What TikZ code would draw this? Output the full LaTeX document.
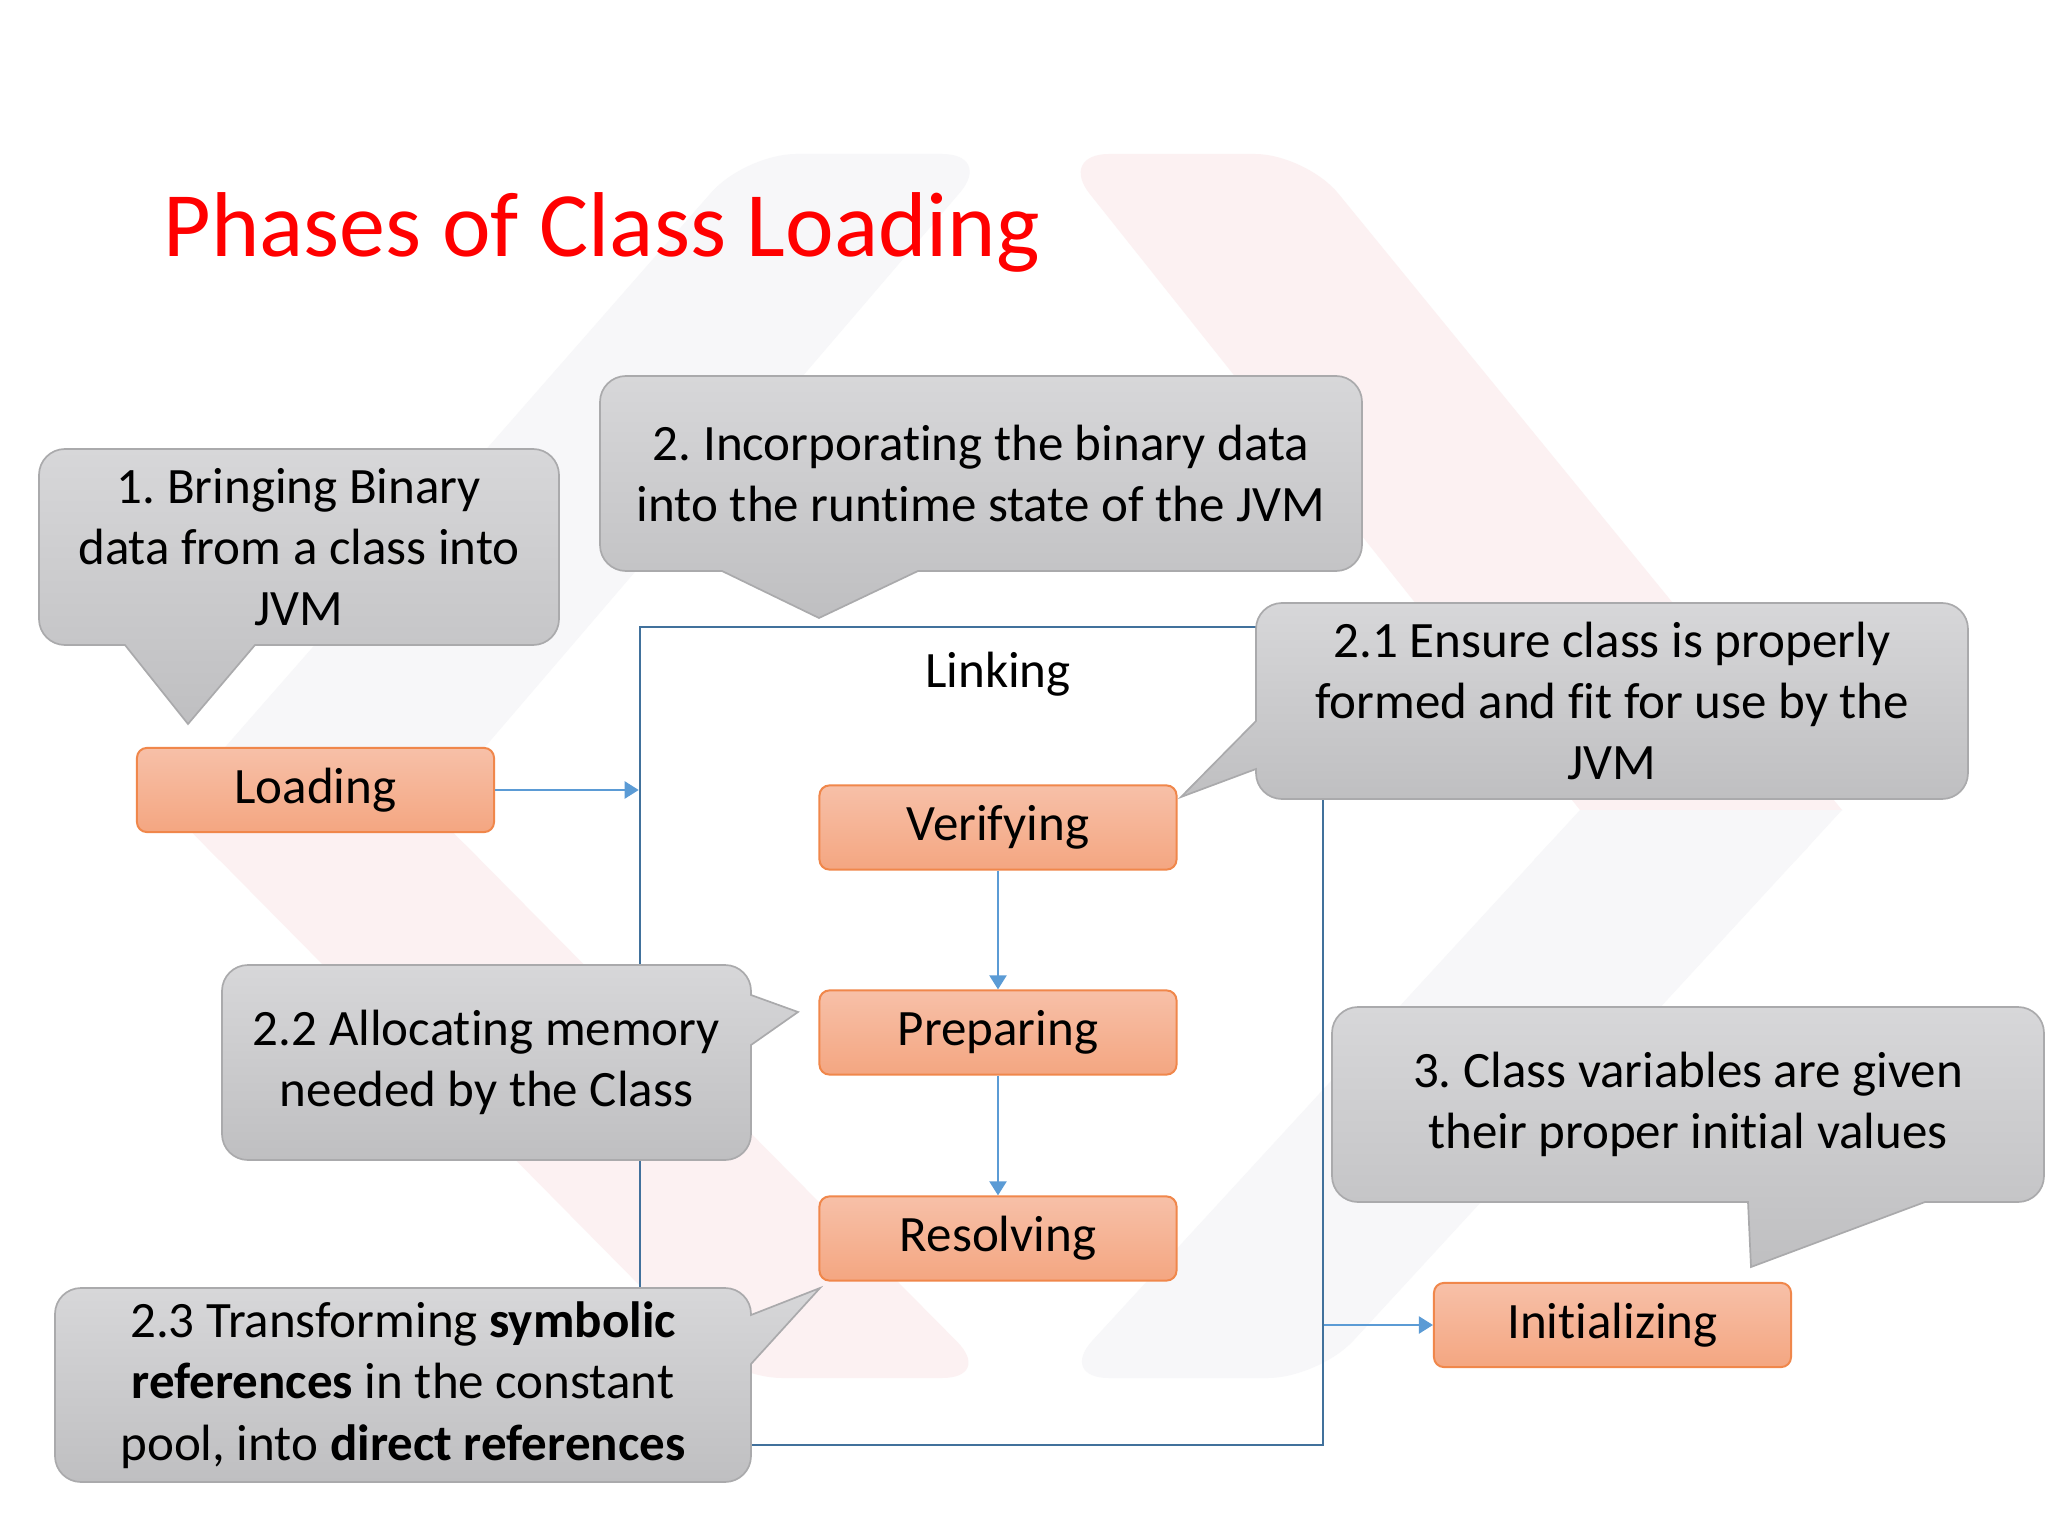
\documentclass[tikz,border=0pt]{standalone}
\usepackage{fontspec}
\setmainfont{Carlito}[Ligatures={NoCommon}]
\usetikzlibrary{arrows.meta,calc}
\frenchspacing

\definecolor{calloutTop}{RGB}{215,215,217}
\definecolor{calloutBot}{RGB}{191,191,193}
\definecolor{calloutLine}{RGB}{170,170,172}
\definecolor{orTop}{RGB}{247,192,168}
\definecolor{orBot}{RGB}{244,166,129}
\definecolor{orLine}{RGB}{240,135,75}
\definecolor{linkBlue}{RGB}{65,113,156}
\definecolor{arrBlue}{RGB}{91,155,213}
\definecolor{titleRed}{RGB}{255,0,0}
\definecolor{wmPink}{RGB}{252,241,242}
\definecolor{wmGray}{RGB}{247,247,249}

% rounded callout box: x1 y1 x2 y2 {top} {right} {bottom} {left}
\newcommand\cbox[8]{%
  (#1+26,#2) #5 -- (#3-26,#2) .. controls (#3-11.6,#2) and (#3,#2+11.6) .. (#3,#2+26)
  #6 -- (#3,#4-26) .. controls (#3,#4-11.6) and (#3-11.6,#4) .. (#3-26,#4)
  #7 -- (#1+26,#4) .. controls (#1+11.6,#4) and (#1,#4-11.6) .. (#1,#4-26)
  #8 -- (#1,#2+26) .. controls (#1,#2+11.6) and (#1+11.6,#2) .. (#1+26,#2) -- cycle}

\tikzset{
  callout/.style={draw=calloutLine, line width=0.6pt, top color=calloutTop, bottom color=calloutBot},
  ctext/.style={align=center, inner sep=0pt, font=\fontsize{18pt}{21.6pt}\selectfont},
  phase/.style={draw=orLine, line width=0.7pt, rounded corners=3.5pt, top color=orTop, bottom color=orBot,
    minimum width=126pt, minimum height=29.7pt, inner sep=0pt, font=\fontsize{18pt}{21.6pt}\selectfont},
  arr/.style={draw=arrBlue, line width=0.95pt, -{Triangle[width=6pt,length=5pt]}},
  wmark/.style={rounded corners=18pt}
}

\begin{document}
\begin{tikzpicture}[x=0.35288pt, y=-0.35288pt]
\useasboundingbox (0,0) rectangle (2048,1536);
\fill[white] (0,0) rectangle (2048,1536);

% watermark: rounded legs, with sharp patches where the legs meet
\fill[wmGray, wmark] (745,154) -- (993,154) -- (431,810) -- (170,810) -- cycle;
\fill[wmPink, wmark] (1058,154) -- (1306,154) -- (1842,810) -- (1580,810) -- cycle;
\fill[wmPink, wmark] (170,810) -- (431,810) -- (993,1378) -- (731,1378) -- cycle;
\fill[wmGray, wmark] (1580,810) -- (1842,810) -- (1319,1378) -- (1058,1378) -- cycle;
\fill[wmGray] (170,810) -- (431,810) -- (474,760) -- (214,760) -- cycle;
\fill[wmPink] (170,810) -- (431,810) -- (480,860) -- (219,860) -- cycle;
\fill[wmPink] (1580,810) -- (1842,810) -- (1801,760) -- (1540,760) -- cycle;
\fill[wmGray] (1580,810) -- (1842,810) -- (1796,860) -- (1534,860) -- cycle;

% title
\node[anchor=base west, text=titleRed, inner sep=0pt, font=\fontsize{32.5pt}{39pt}\selectfont] (title) at (163,257) {Phases of Class Loading};

% linking frame
\node[draw=linkBlue, line width=0.9pt, minimum width=241pt, minimum height=288.7pt, inner sep=0pt] (link) at (981.5,1036) {};
\node[ctext] (linktxt) at (998,674) {Linking};

% phases
\node[phase] (load) at (315.5,790) {Loading};
\node[phase] (ver) at (998,827.5) {Verifying};
\node[phase] (prep) at (998,1032.5) {Preparing};
\node[phase] (res) at (998,1238.5) {Resolving};
\node[phase] (init) at (1612.5,1325) {Initializing};

\draw[arr] (load.east) -- (link.west |- load.east);
\draw[arr] (ver) -- (prep);
\draw[arr] (prep) -- (res);
\draw[arr] (link.east |- init.west) -- (init.west);

% callouts
\path[callout] \cbox{39}{449}{559}{645}{}{}{-- (255,645) -- (188,724) -- (125,645)}{};
\node[ctext] (c1) at (299,547) {1. Bringing Binary\\data from a class into\\JVM};

\path[callout] \cbox{600}{376}{1362}{571}{}{}{-- (918,571) -- (819,618) -- (722,571)}{};
\node[ctext] (c2) at (981,473.5) {2. Incorporating the binary data\\into the runtime state of the JVM};

\path[callout] \cbox{1256}{603}{1968}{799}{}{}{}{-- (1256,769) -- (1181,797) -- (1256,721)};
\node[ctext] (c21) at (1612,701) {2.1 Ensure class is properly\\formed and fit for use by the\\JVM};

\path[callout] \cbox{222}{965}{751}{1160}{}{-- (751,995) -- (798,1012) -- (751,1045)}{}{};
\node[ctext] (c22) at (486.5,1062) {2.2 Allocating memory\\needed by the Class};

\path[callout] \cbox{55}{1288}{751}{1482}{}{-- (751,1315) -- (820,1288) -- (751,1364)}{}{};
\node[ctext] (c23) at (403,1385) {2.3 Transforming \textbf{symbolic}\\\textbf{references} in the constant\\pool, into \textbf{direct references}};

\path[callout] \cbox{1332}{1007}{2044}{1202}{}{}{-- (1925,1202) -- (1751,1267) -- (1748,1202)}{};
\node[ctext] (c3) at (1688,1104.5) {3. Class variables are given\\their proper initial values};
\end{tikzpicture}
\end{document}
